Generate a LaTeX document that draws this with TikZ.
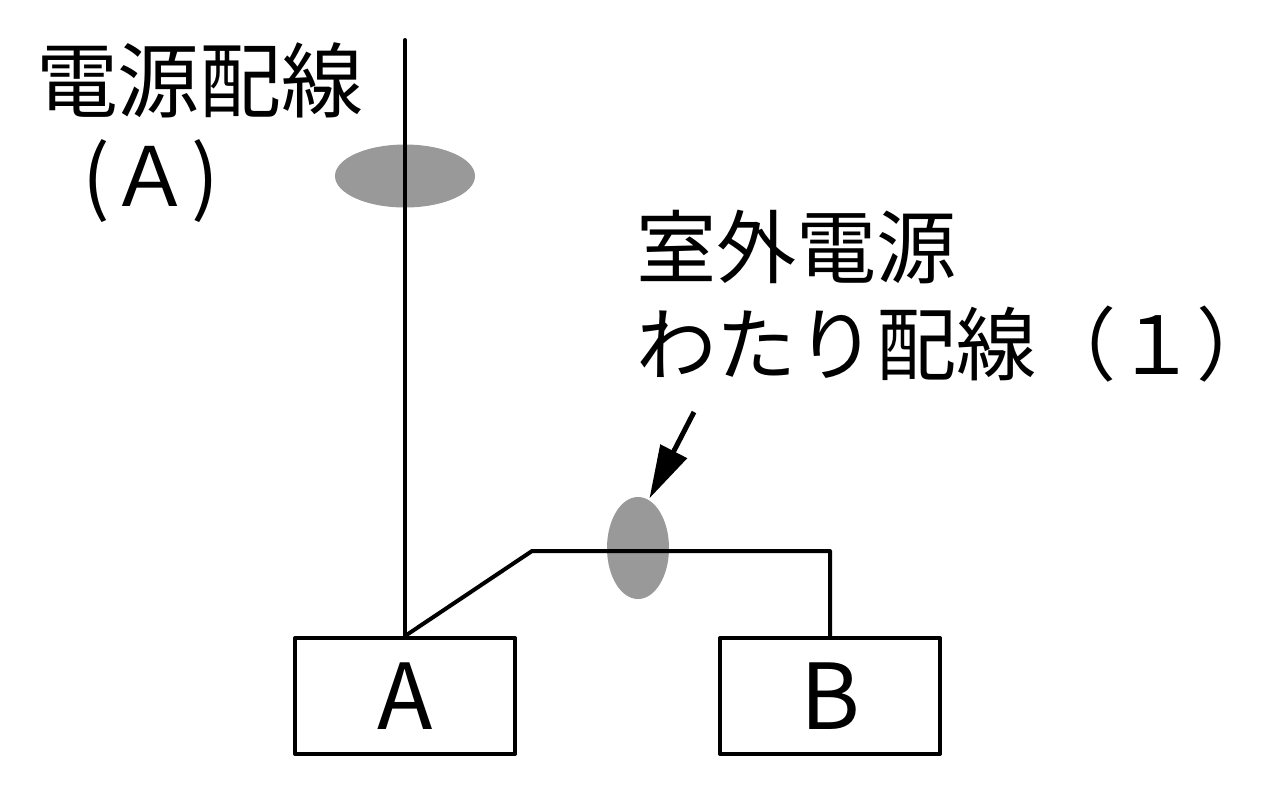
\documentclass[tikz,border=0pt]{standalone}
\usepackage{fontspec}
\setmainfont{Noto Sans CJK JP}
\usetikzlibrary{arrows, arrows.meta}
\usetikzlibrary{shapes.geometric}
\definecolor{clampgray}{RGB}{153,153,153}

\begin{document}
\begin{tikzpicture}[x=0.1mm, y=-0.1mm, line width=0.4mm, line join=round]
    \useasboundingbox (0,0) rectangle (1280,795);
    \tikzset{
      unit/.style={rectangle, draw, inner sep=0pt, minimum width=22mm, minimum height=11.6mm, font=\fontsize{25.9pt}{30pt}\selectfont},
      clamp/.style={ellipse, fill=clampgray, inner sep=0pt},
      jptext/.style={inner sep=0pt, anchor=base west, font=\fontsize{23.3pt}{27.6pt}\selectfont}
    }

    \node[clamp, minimum width=14mm, minimum height=6.3mm] (c1) at (405,176) {};
    \node[clamp, minimum width=6.2mm, minimum height=10.2mm] (c2) at (638,548) {};
    \node[unit] (A) at (405,696) {A};
    \node[unit] (B) at (830,696) {B};

    \coordinate (top) at (405,40);
    \coordinate (bend) at (532,551);
    \coordinate (tail) at (694,412);

    \draw[line cap=round] (A.north) -- (top);
    \draw (A.north) -- (bend) -- (bend -| B.north) -- (B.north);
    \draw[-{Triangle[length=5.3mm, width=2.9mm]}, line width=0.5mm] (tail) -- (c2.77);

    \node[jptext] (t1) at (34,111) {電源配線};
    \node[jptext] (t2) at (80,206) {(Ａ)};
    \node[jptext, font=\fontsize{22.8pt}{27.6pt}\selectfont] (t3) at (634,277) {室外電源};
    \node[jptext, font=\fontsize{22.8pt}{27.6pt}\selectfont] (t4) at (634,374) {わたり配線（１）};
\end{tikzpicture}
\end{document}
